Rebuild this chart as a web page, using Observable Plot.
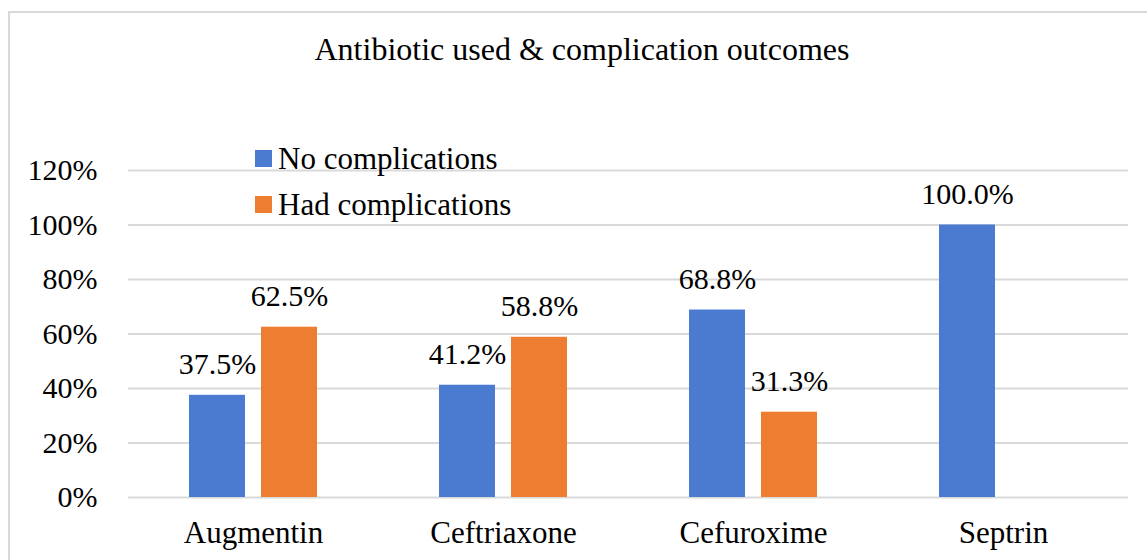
<!DOCTYPE html>
<html>
<head>
<meta charset="utf-8">
<script src="https://cdn.jsdelivr.net/npm/d3@7"></script>
<script src="https://cdn.jsdelivr.net/npm/@observablehq/plot@0.6"></script>
<style>
  html, body { margin: 0; padding: 0; background: #fff; }
  #wrap { position: relative; width: 1147px; height: 560px; overflow: hidden; font-family: "Liberation Serif", Tinos, "Times New Roman", "DejaVu Serif", serif; color: #000; }
  #frame { position: absolute; left: 8px; top: 11px; width: 1160px; height: 600px; border: 2px solid #d9d9d9; box-sizing: border-box; }
  #title { position: absolute; left: 8px; width: 1148px; top: 33px; text-align: center; font-size: 32px; line-height: 1; }
  #chart { position: absolute; left: 0; top: 0; }
  .leg { position: absolute; left: 255px; display: flex; align-items: center; font-size: 31px; line-height: 1; }
  .leg span.sw { display: inline-block; width: 17px; height: 17px; margin-right: 6px; }
</style>
</head>
<body>
<div id="wrap">
  <div id="frame"></div>
  <div id="chart"></div>
  <div id="title"></div>
  <div id="legend"></div>
</div>
<script>
const titleText = "Antibiotic used & complication outcomes";
const categories = ["Augmentin", "Ceftriaxone", "Cefuroxime", "Septrin"];
const series = ["No complications", "Had complications"];
const noComplications = [37.5, 41.2, 68.8, 100.0];
const hadComplications = [62.5, 58.8, 31.3, 0];
const yTicks = [0, 20, 40, 60, 80, 100, 120];
const colors = ["#4A7BD0", "#ED7D31"];

const data = [];
categories.forEach((c, i) => {
  data.push({cat: c, series: series[0], value: noComplications[i]});
  data.push({cat: c, series: series[1], value: hadComplications[i]});
});

document.getElementById("title").textContent = titleText;

const legendTops = [150, 196];
const legend = document.getElementById("legend");
series.forEach((s, i) => {
  const row = document.createElement("div");
  row.className = "leg";
  row.style.top = (legendTops[i] - 7) + "px";
  const sw = document.createElement("span");
  sw.className = "sw";
  sw.style.background = colors[i];
  row.appendChild(sw);
  row.appendChild(document.createTextNode(s));
  legend.appendChild(row);
});

const fontStack = "'Liberation Serif', Tinos, 'Times New Roman', 'DejaVu Serif', serif";
const chart = Plot.plot({
  width: 1147,
  height: 560,
  marginTop: 170,
  marginBottom: 63,
  marginLeft: 128,
  marginRight: 19,
  style: {fontFamily: fontStack, fontSize: "30px", color: "#000", background: "transparent", overflow: "visible"},
  fx: {domain: categories, padding: 0, label: null, axis: "bottom", tickSize: 0, tickPadding: 23},
  x: {domain: series, paddingInner: 0.222, paddingOuter: 0.847, axis: null},
  y: {domain: [0, 120], ticks: yTicks, tickFormat: d => d + "%", label: null, tickSize: 0, tickPadding: 31},
  color: {domain: series, range: colors},
  marks: [
    Plot.ruleY(yTicks, {stroke: "#d9d9d9", strokeWidth: 2}),
    Plot.barY(data, {fx: "cat", x: "series", y: "value", fill: "series"}),
    Plot.text(data.filter(d => d.value > 0), {fx: "cat", x: "series", y: "value", text: d => d.value.toFixed(1) + "%", lineAnchor: "bottom", dy: -21, fill: "#000"})
  ]
});
chart.querySelectorAll("g[aria-label='fx-axis tick label'] text, g[aria-label='fx-axis tick label']").forEach(el => el.setAttribute("font-size", "31"));
document.getElementById("chart").appendChild(chart);
</script>
</body>
</html>
